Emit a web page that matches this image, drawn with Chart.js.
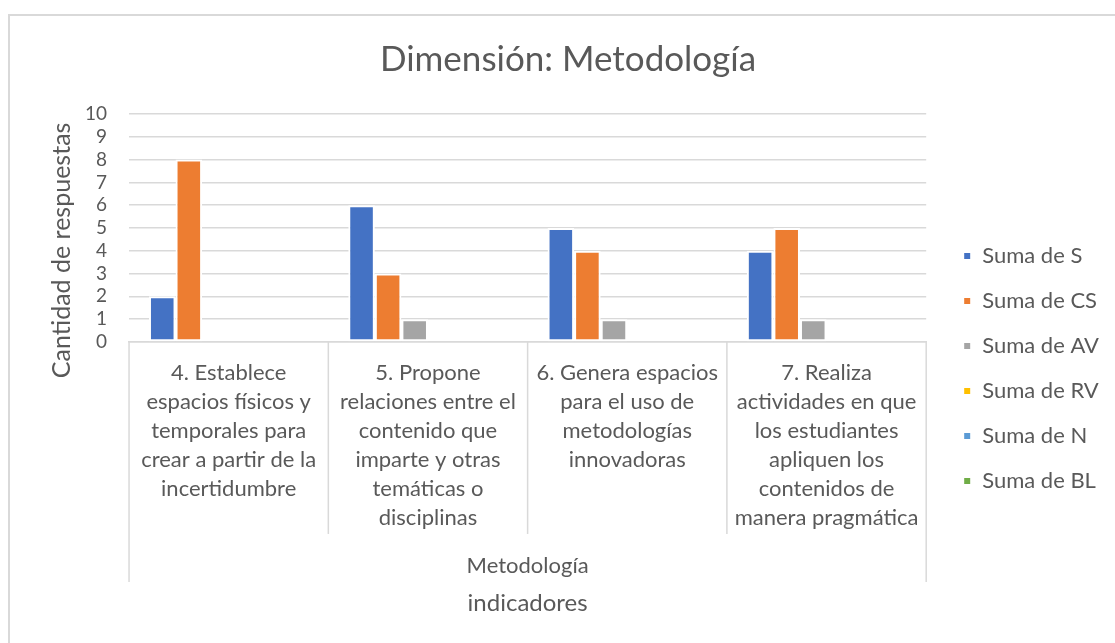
<!DOCTYPE html>
<html>
<head>
<meta charset="utf-8">
<script src="https://cdn.jsdelivr.net/npm/chart.js@4/dist/chart.umd.min.js"></script>
<style>
  html, body { margin: 0; padding: 0; background: #fff; overflow: hidden; }
  #frame { position: absolute; left: 8px; top: 14px; width: 1200px; height: 700px;
           border-left: 2px solid #d9d9d9; border-top: 2px solid #d9d9d9; }
  #wrap { position: absolute; left: 0; top: 0; width: 1115px; height: 643px; }
</style>
</head>
<body>
<div id="frame"></div>
<div id="wrap"><canvas id="chart"></canvas></div>
<script>
// Dimensión: Metodología — grouped bars per indicador
const categories = [
  ['4. Establece', 'espacios físicos y', 'temporales para', 'crear a partir de la', 'incertidumbre'],
  ['5. Propone', 'relaciones entre el', 'contenido que', 'imparte y otras', 'temáticas o', 'disciplinas'],
  ['6. Genera espacios', 'para el uso de', 'metodologías', 'innovadoras'],
  ['7. Realiza', 'actividades en que', 'los estudiantes', 'apliquen los', 'contenidos de', 'manera pragmática']
];
const groupLabel = 'Metodología';
const seriesNames = ['Suma de S', 'Suma de CS', 'Suma de AV', 'Suma de RV', 'Suma de N', 'Suma de BL'];
const sumaS  = [2, 6, 5, 4];
const sumaCS = [8, 3, 4, 5];
const sumaAV = [0, 1, 1, 1];
const sumaRV = [0, 0, 0, 0];
const sumaN  = [0, 0, 0, 0];
const sumaBL = [0, 0, 0, 0];
const colors = ['#4472c4', '#ed7d31', '#a5a5a5', '#ffc000', '#5b9bd5', '#70ad47'];
const yTicks = [0, 1, 2, 3, 4, 5, 6, 7, 8, 9, 10];

const FONT = 'Lato, "Open Sans", sans-serif';
const TXT = '#595959';
const GRID = '#d9d9d9';

// category separators + group label (multi-level axis look)
const multiLevelAxis = {
  id: 'multiLevelAxis',
  afterDraw(chart) {
    const { ctx, chartArea, scales: { x } } = chart;
    const n = categories.length;
    const half = (x.getPixelForValue(1) - x.getPixelForValue(0)) / 2;
    const base = chartArea.bottom;
    ctx.save();
    ctx.strokeStyle = GRID;
    ctx.lineWidth = 1.5;
    for (let i = 0; i <= n; i++) {
      const px = i < n ? x.getPixelForValue(i) - half : x.getPixelForValue(n - 1) + half;
      const outer = i === 0 || i === n;
      ctx.beginPath();
      ctx.moveTo(px, base);
      ctx.lineTo(px, outer ? base + 240 : base + 192);
      ctx.stroke();
    }
    ctx.fillStyle = TXT;
    ctx.font = '22px ' + FONT;
    ctx.textAlign = 'center';
    ctx.textBaseline = 'middle';
    ctx.fillText(groupLabel, (chartArea.left + chartArea.right) / 2, base + 224);
    ctx.restore();
  }
};

const seriesData = [sumaS, sumaCS, sumaAV, sumaRV, sumaN, sumaBL];

new Chart(document.getElementById('chart').getContext('2d'), {
  type: 'bar',
  data: {
    labels: categories,
    datasets: seriesNames.map((name, i) => ({
      label: name,
      data: seriesData[i],
      backgroundColor: colors[i],
      borderColor: '#ffffff',
      borderWidth: 2,
      borderSkipped: false,
      barPercentage: 1.0,
      categoryPercentage: 0.8
    }))
  },
  options: {
    responsive: true,
    maintainAspectRatio: false,
    animation: false,
    layout: { padding: { left: 27, right: 6, top: 0, bottom: 20 } },
    scales: {
      x: {
        grid: { display: false, drawTicks: false },
        border: { display: true, color: GRID, width: 1.5 },
        ticks: {
          color: TXT,
          font: { family: FONT, size: 22, lineHeight: 1.32 },
          padding: 16,
          maxRotation: 0,
          autoSkip: false
        },
        // wide wrapped labels fit inside their category, no extra side padding
        afterFit: (scale) => { scale.paddingLeft = 0; scale.paddingRight = 0; },
        title: {
          display: true,
          text: 'indicadores',
          color: TXT,
          font: { family: FONT, size: 24 },
          padding: { top: 41, bottom: 5 }
        }
      },
      y: {
        min: 0,
        max: 10,
        afterBuildTicks: (axis) => { axis.ticks = yTicks.map(v => ({ value: v })); },
        // tick padding is reserved twice by fit(); keep it once
        afterFit: (scale) => { scale.width -= scale.options.ticks.padding; },
        grid: { color: GRID, lineWidth: 1.5, drawTicks: false },
        border: { display: false },
        ticks: {
          color: TXT,
          font: { family: FONT, size: 19 },
          padding: 22,
          autoSkip: false
        },
        title: {
          display: true,
          text: 'Cantidad de respuestas       ',
          color: TXT,
          font: { family: FONT, size: 25 },
          padding: { top: 20, bottom: 8 }
        }
      },
      // empty spacer between the plot and the legend
      gap: {
        type: 'linear',
        position: 'right',
        display: true,
        grid: { display: false },
        border: { display: false },
        ticks: { display: false },
        afterFit: (scale) => { scale.width = 14; }
      }
    },
    plugins: {
      title: {
        display: true,
        text: 'Dimensión: Metodología',
        color: TXT,
        font: { family: FONT, size: 35, weight: 'normal' },
        padding: { top: 39, bottom: 33 }
      },
      legend: {
        position: 'right',
        title: { display: true, text: ' ', font: { size: 10 }, padding: 51 },
        labels: {
          color: TXT,
          font: { family: FONT, size: 22 },
          boxWidth: 8,
          boxHeight: 8,
          padding: 23
        }
      },
      tooltip: { enabled: false }
    }
  },
  plugins: [multiLevelAxis]
});
</script>
</body>
</html>
